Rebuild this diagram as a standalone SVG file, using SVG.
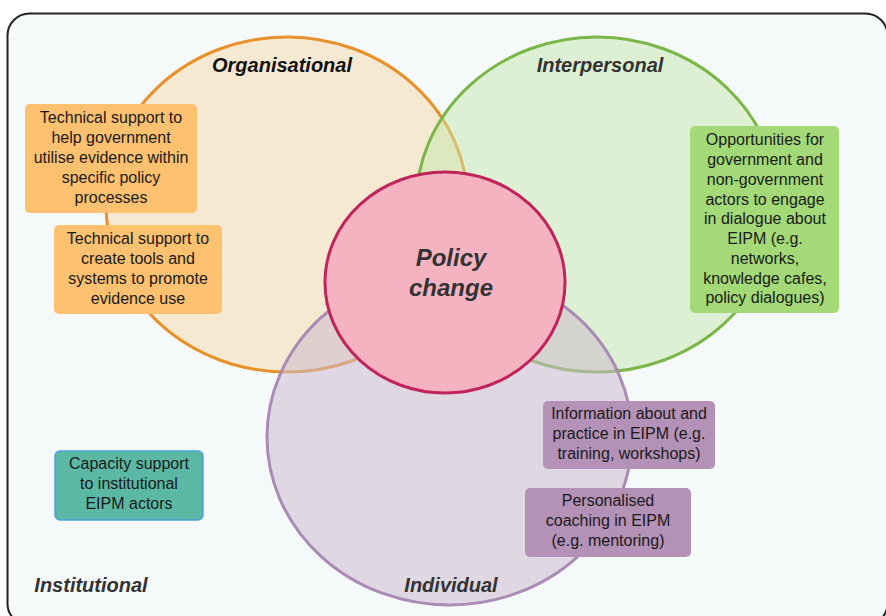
<svg xmlns="http://www.w3.org/2000/svg" width="886" height="616" viewBox="0 0 886 616">
<style>
.box{font-family:"Liberation Sans",Arial,sans-serif;font-size:16px;fill:#1a1a1a;text-anchor:middle}
.lbl{font-family:"Liberation Sans",Arial,sans-serif;font-size:20px;font-weight:bold;font-style:italic;fill:#333;text-anchor:middle}
</style>
<rect x="0" y="0" width="886" height="616" fill="#ffffff"/>
<rect id="frame" x="7.5" y="13.5" width="880" height="612" rx="22" fill="#f6f9f9" stroke="#222" stroke-width="2"/>
<g id="organisational">
<ellipse cx="287" cy="204.5" rx="181" ry="167.5" fill="#f6d9a9" fill-opacity="0.5" stroke="#e8902a" stroke-width="3"/>
<text class="lbl" style="fill:#111" x="282" y="72">Organisational</text>
</g>
<g id="interpersonal">
<ellipse cx="597" cy="204.5" rx="181" ry="167.5" fill="#c4e7ad" fill-opacity="0.5" stroke="#7ab648" stroke-width="3"/>
<text class="lbl" x="600" y="72">Interpersonal</text>
</g>
<g id="individual">
<ellipse cx="449.5" cy="437" rx="182.5" ry="168" fill="#ccbbcd" fill-opacity="0.55" stroke="#a98bb5" stroke-width="3"/>
<text class="lbl" x="451" y="592">Individual</text>
</g>
<g id="institutional">
<text class="lbl" x="91" y="592">Institutional</text>
</g>
<g id="policy-change">
<ellipse cx="445" cy="282.5" rx="120" ry="110.5" fill="#f5b3c2" stroke="#c0245c" stroke-width="3"/>
<text class="lbl" style="font-size:24px" x="451" y="266">Policy</text>
<text class="lbl" style="font-size:24px" x="451" y="296">change</text>
</g>
<g id="box-tech-policy">
<rect x="25" y="104" width="172" height="109" rx="5" fill="#fdc170"/>
<text class="box" x="111" y="123">Technical support to</text>
<text class="box" x="111" y="143">help government</text>
<text class="box" x="111" y="163">utilise evidence within</text>
<text class="box" x="111" y="183">specific policy</text>
<text class="box" x="111" y="203">processes</text>
</g>
<g id="box-tech-tools">
<rect x="54" y="225" width="168" height="89" rx="5" fill="#fdc170"/>
<text class="box" x="138" y="244">Technical support to</text>
<text class="box" x="138" y="264">create tools and</text>
<text class="box" x="138" y="284">systems to promote</text>
<text class="box" x="138" y="304">evidence use</text>
</g>
<g id="box-dialogue">
<rect x="690" y="126" width="149" height="187" rx="5" fill="#a3d977"/>
<text class="box" x="765" y="145">Opportunities for</text>
<text class="box" x="765" y="165">government and</text>
<text class="box" x="765" y="185">non-government</text>
<text class="box" x="765" y="205">actors to engage</text>
<text class="box" x="765" y="224">in dialogue about</text>
<text class="box" x="765" y="244">EIPM (e.g.</text>
<text class="box" x="765" y="264">networks,</text>
<text class="box" x="765" y="284">knowledge cafes,</text>
<text class="box" x="765" y="303">policy dialogues)</text>
</g>
<g id="box-capacity">
<rect x="55" y="451" width="148" height="69" rx="5" fill="#5bb8a4" stroke="#4aa3dd" stroke-width="1.5"/>
<text class="box" x="129" y="469">Capacity support</text>
<text class="box" x="129" y="489">to institutional</text>
<text class="box" x="129" y="509">EIPM actors</text>
</g>
<g id="box-information">
<rect x="543" y="401" width="172" height="68" rx="5" fill="#b491b6"/>
<text class="box" x="629" y="419">Information about and</text>
<text class="box" x="629" y="439">practice in EIPM (e.g.</text>
<text class="box" x="629" y="459">training, workshops)</text>
</g>
<g id="box-coaching">
<rect x="525" y="488" width="166" height="69" rx="5" fill="#b491b6"/>
<text class="box" x="608" y="506">Personalised</text>
<text class="box" x="608" y="526">coaching in EIPM</text>
<text class="box" x="608" y="546">(e.g. mentoring)</text>
</g>
<g id="connectors"></g>
</svg>
